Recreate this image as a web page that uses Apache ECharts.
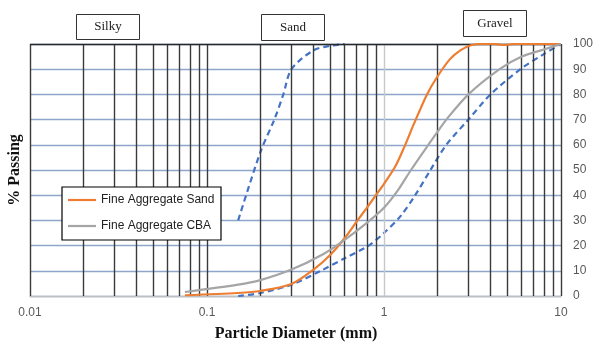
<!DOCTYPE html>
<html>
<head>
<meta charset="utf-8">
<script src="https://cdn.jsdelivr.net/npm/echarts@6/dist/echarts.min.js"></script>
<style>html,body{margin:0;padding:0;background:#fff}#c{width:596px;height:344px}</style>
</head>
<body>
<div id="c"></div>
<script>
// Particle diameters (mm) and % passing
const sandX = [0.075, 0.15, 0.2, 0.3, 0.4, 0.5, 0.6, 0.7, 0.8, 0.9, 1.0, 1.16, 1.3, 1.47, 1.75, 2.0, 2.36, 2.7, 3.1, 3.6, 4.2, 4.75, 5.5, 10];
const sandY = [0.3, 1.2, 2.0, 4.8, 10.5, 16.5, 23, 29.5, 35, 40, 44.5, 51.5, 59, 68, 80, 87, 94, 97.5, 99.5, 100, 100, 99.6, 100, 100];
const cbaX = [0.075, 0.15, 0.2, 0.3, 0.45, 0.6, 0.8, 1.0, 1.2, 1.42, 1.78, 2.0, 2.25, 3.0, 4.5, 6.0, 8.0, 10];
const cbaY = [1.6, 4.5, 6.3, 10.5, 16.5, 22.3, 29, 35, 42, 50, 60, 65, 70, 80, 90, 95, 97.8, 100];
const lowerX = [0.15, 0.2, 0.3, 0.44, 0.6, 0.82, 1.0, 1.25, 1.5, 1.83, 2.25, 3.0, 4.0, 5.9, 8.0, 10];
const lowerY = [0, 1.2, 4.5, 10, 15, 20, 25, 32, 40, 50, 60, 70, 80, 90, 96, 100];
const upperX = [0.15, 0.2, 0.24, 0.27, 0.3, 0.4, 0.5, 0.6];
const upperY = [30, 57, 70, 80, 90, 97.5, 99.3, 100];
const xTickLabels = ['0.01', '0.1', '1', '10'];
const gridLinesX = [0.01, 0.02, 0.03, 0.04, 0.05, 0.06, 0.07, 0.08, 0.09, 0.1,
  0.2, 0.3, 0.4, 0.5, 0.6, 0.7, 0.8, 0.9, 2, 3, 4, 5, 6, 7, 8, 9, 10];
const zoneLabels = ['Silky', 'Sand', 'Gravel'];

const pair = (xs, ys) => xs.map((x, i) => [x, ys[i]]);
const chart = echarts.init(document.getElementById('c'), null, {renderer: 'canvas'});
const lblFont = 'Liberation Sans';
const serif = 'Liberation Serif';

const vLines = gridLinesX.map(v => ({xAxis: v, lineStyle: {color: '#3a3a3a', width: 1.4, type: 'solid'}}));
vLines.push({xAxis: 1, lineStyle: {color: '#c8c8c8', width: 1.4, type: 'solid'}});
vLines.push({yAxis: 100, lineStyle: {color: '#2a2a2a', width: 1.4, type: 'solid'}});

function zoneBox(text, x, y, w, h) {
  return {
    type: 'group', left: x, top: y,
    children: [
      {type: 'rect', shape: {x: 0, y: 0, width: w, height: h}, style: {fill: '#fff', stroke: '#333', lineWidth: 1}},
      {type: 'text', x: w / 2, y: h / 2, style: {text: text, fill: '#222', font: '13px "' + serif + '"', textAlign: 'center', textVerticalAlign: 'middle'}}
    ]
  };
}

const curve = (name, xs, ys, color, dashed, z) => ({
  name: name, type: 'line', data: pair(xs, ys), smooth: 0.3,
  symbol: 'none', showSymbol: false, z: z,
  lineStyle: {color: color, width: 2.2, type: dashed ? [6, 4] : 'solid'},
  itemStyle: {color: color}
});

chart.setOption({
  animation: false,
  grid: {left: 30, right: 33, top: 44, bottom: 48},
  xAxis: {
    type: 'log', logBase: 10, min: 0.01, max: 10,
    axisLine: {show: true, lineStyle: {color: '#bfbfbf', width: 1.4}},
    axisTick: {show: false},
    splitLine: {show: false},
    axisLabel: {color: '#595959', fontFamily: lblFont, fontSize: 12, margin: 11,
      formatter: v => { const s = String(+v.toPrecision(3)); return xTickLabels.includes(s) ? s : ''; }}
  },
  yAxis: {
    type: 'value', position: 'right', min: 0, max: 100, interval: 10,
    axisLine: {show: false}, axisTick: {show: false},
    splitLine: {show: true, lineStyle: {color: '#8fa6cb', width: 1.3}},
    axisLabel: {color: '#595959', fontFamily: lblFont, fontSize: 12, margin: 12}
  },
  legend: {
    data: [
      {name: 'Fine Aggregate Sand', icon: 'rect', itemStyle: {color: '#ed7d31'}},
      {name: 'Fine Aggregate CBA', icon: 'rect', itemStyle: {color: '#a5a5a5'}}
    ],
    orient: 'vertical', left: 62, top: 187, z: 20,
    padding: [6, 8, 6, 6], itemGap: 12, itemWidth: 28, itemHeight: 2.2,
    textStyle: {fontFamily: lblFont, fontSize: 12, color: '#222', lineHeight: 14}
  },
  graphic: [
    zoneBox(zoneLabels[0], 76, 14, 63, 25),
    zoneBox(zoneLabels[1], 261, 14, 63, 26),
    zoneBox(zoneLabels[2], 463, 10, 63, 26),
    {type: 'rect', z: 10, shape: {x: 62, y: 187, width: 159, height: 53},
      style: {fill: '#fff', stroke: '#000', lineWidth: 1.2}},
    {type: 'text', x: 15, y: 170, rotation: Math.PI / 2,
      style: {text: '% Passing', font: 'bold 16px "' + serif + '"', fill: '#111', textAlign: 'center', textVerticalAlign: 'middle'}},
    {type: 'text', x: 296, y: 334,
      style: {text: 'Particle Diameter (mm)', font: 'bold 16px "' + serif + '"', fill: '#111', textAlign: 'center', textVerticalAlign: 'middle'}}
  ],
  series: [
    {type: 'line', data: [], z: 1, silent: true,
      markLine: {silent: true, symbol: ['none', 'none'], label: {show: false}, animation: false, data: vLines}},
    curve('Fine Aggregate Sand', sandX, sandY, '#ed7d31', false, 5),
    curve('Fine Aggregate CBA', cbaX, cbaY, '#a5a5a5', false, 5),
    curve('Lower limit', lowerX, lowerY, '#4472c4', true, 4),
    curve('Upper limit', upperX, upperY, '#4472c4', true, 4)
  ]
});
</script>
</body>
</html>
